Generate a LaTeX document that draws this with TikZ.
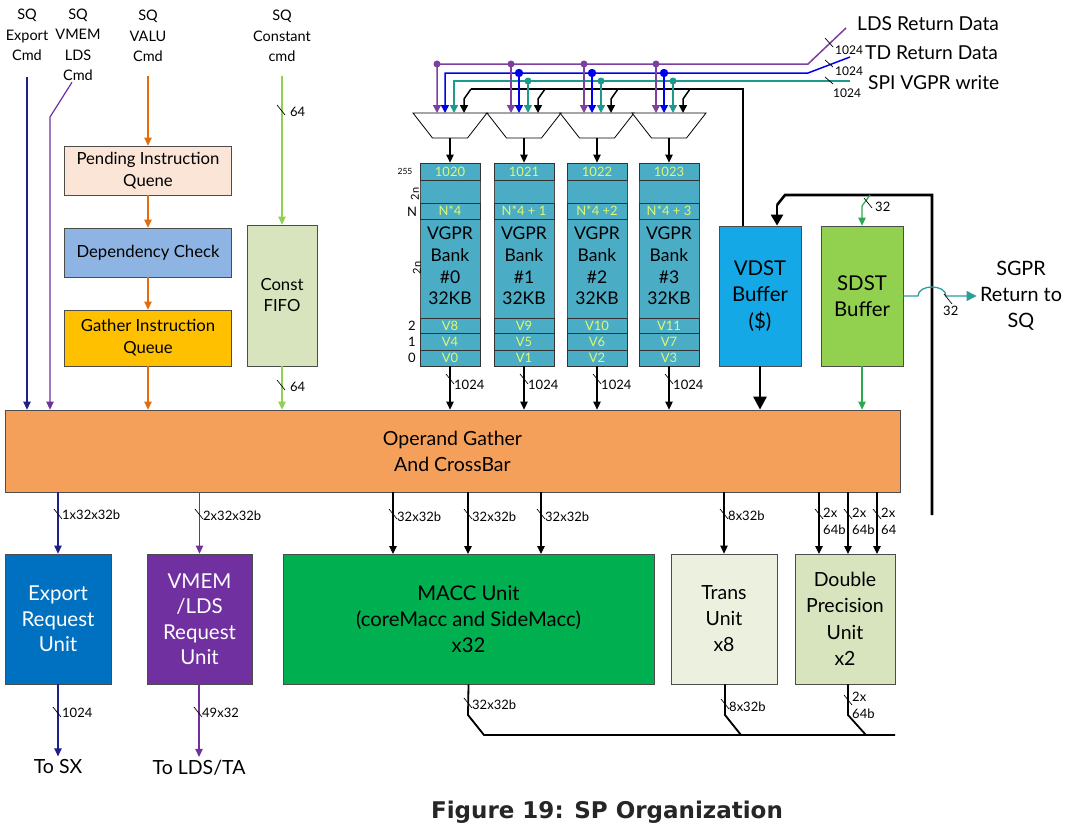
\documentclass[tikz,border=0pt]{standalone}
\usepackage{fontspec}
\setmainfont{Lato}
\newfontfamily\capfont{DejaVu Sans}
\usepackage{xcolor}
\usetikzlibrary{arrows.meta, positioning, calc}

\definecolor{navyln}{HTML}{1F1F8C}
\definecolor{vmemln}{HTML}{7030A0}
\definecolor{valuln}{HTML}{E46C0A}
\definecolor{constln}{HTML}{92D050}
\definecolor{sdstln}{HTML}{2AAA50}
\definecolor{pendfill}{HTML}{FBE5D6}
\definecolor{depfill}{HTML}{8EB4E3}
\definecolor{gathfill}{HTML}{FFC000}
\definecolor{fifofill}{HTML}{D7E4BD}
\definecolor{ogfill}{HTML}{F5A05A}
\definecolor{bankfill}{HTML}{4BACC6}
\definecolor{banktxt}{HTML}{E2F76E}
\definecolor{vdstfill}{HTML}{14A8E6}
\definecolor{sdstfill}{HTML}{92D050}
\definecolor{expfill}{HTML}{0070C0}
\definecolor{vmemfill}{HTML}{7030A0}
\definecolor{maccfill}{HTML}{00B050}
\definecolor{transfill}{HTML}{EBF1DE}
\definecolor{dpfill}{HTML}{D7E4BD}
\definecolor{muxpurp}{HTML}{7F3F9F}
\definecolor{muxblue}{HTML}{0000F0}
\definecolor{muxteal}{HTML}{1C9A8C}
\definecolor{sgprln}{HTML}{2A9D9D}

% bus width mark: slash at (#1,#2), label at (#3,#4)
\newcommand{\wmark}[5]{%
  \draw[wire] (#1-4,#2-5) -- (#1+4,#2+5);
  \node[buslbl] (w#1x#2) at (#3,#4) {#5};}

\begin{document}
\begin{tikzpicture}[x=1pt, y=-1pt,
  box/.style={draw=black!70, line width=0.8pt, align=center, inner sep=1pt},
  toplbl/.style={align=center, inner sep=1pt, font=\fontsize{14.5}{20.5}\selectfont},
  rtlbl/.style={anchor=west, inner sep=0pt, font=\fontsize{19.2}{20}\selectfont},
  buslbl/.style={inner sep=0pt, align=left, anchor=west, font=\fontsize{13}{17}\selectfont},
  wire/.style={line width=0.7pt},
  arr/.style={line width=1.2pt, -{Triangle[width=7.5pt,length=8pt]}},
  fatarr/.style={line width=2.8pt, -{Triangle[width=13pt,length=13pt]}},
  muxin/.style={line width=1.5pt, -{Triangle[width=8pt,length=8pt]}},
  rowbox/.style={draw=black!80, line width=0.8pt, fill=bankfill, minimum width=60pt, inner sep=0pt, text=banktxt, font=\fontsize{13}{13}\selectfont},
  unit/.style={box, minimum height=130pt, font=\fontsize{20.5}{25.5}\selectfont},
]
\useasboundingbox (0,0) rectangle (1067,830);
\fill[white] (0,0) rectangle (1067,830);

% SQ command inputs
\node[toplbl] (sqexp) at (27,35) {SQ\\Export\\Cmd};
\node[toplbl] (sqvmem) at (78,45) {SQ\\VMEM\\LDS\\Cmd};
\node[toplbl] (sqvalu) at (148,36) {SQ\\VALU\\Cmd};
\node[toplbl] (sqconst) at (282,36) {SQ\\Constant\\cmd};

% issue path
\node[box, fill=pendfill, minimum width=167pt, minimum height=49pt, font=\fontsize{16.7}{22}\selectfont] (piq) at (148,170.5) {Pending Instruction\\Quene};
\node[box, fill=depfill, minimum width=167pt, minimum height=49pt, font=\fontsize{16.7}{22}\selectfont] (dep) at (148,252.5) {Dependency Check};
\node[box, fill=gathfill, minimum width=167pt, minimum height=56pt, font=\fontsize{16.7}{22}\selectfont] (giq) at (148,338) {Gather Instruction\\Queue};
\node[box, fill=fifofill, minimum width=70pt, minimum height=141pt, font=\fontsize{16.7}{21}\selectfont] (cfifo) at (282,295.5) {Const\\FIFO};

% operand gather
\node[box, fill=ogfill, minimum width=895pt, minimum height=82pt, font=\fontsize{19.5}{26}\selectfont] (og) at (452.5,451) {Operand Gather\\And CrossBar};

\draw[navyln, arr, shorten <=15pt] (sqexp.south) -- (og.north -| sqexp.south);
\coordinate (vbend) at (50,117);
\draw[vmemln, arr] ($(sqvmem.south)+(-6,0)$) -- (vbend) -- (og.north -| vbend);
\draw[valuln, arr, shorten <=13pt] (sqvalu.south) -- (piq.north);
\draw[valuln, arr] (piq) -- (dep);
\draw[valuln, arr] (dep) -- (giq);
\draw[valuln, arr] (giq.south) -- (og.north -| giq.south);
\draw[constln, arr, shorten <=13pt] (sqconst.south) -- (cfifo.north);
\draw[constln, arr] (cfifo.south) -- (og.north -| cfifo.south);
\wmark{281}{110}{290}{112}{64}
\wmark{281}{385}{290}{387}{64}

% VGPR banks
\foreach \i/\x/\nl in {0/450/{N*4}, 1/524/{N*4 + 1}, 2/597/{N*4 +2}, 3/669/{N*4 + 3}} {
  \pgfmathtruncatemacro{\rtopv}{1020+\i}
  \pgfmathtruncatemacro{\vone}{4+\i}
  \pgfmathtruncatemacro{\vtwo}{8+\i}
  \node[box, fill=bankfill, minimum width=60pt, minimum height=203pt] (bank\i) at (\x,264.5) {};
  \node[rowbox, minimum height=17pt] (rtop\i) at (\x,171.5) {\rtopv};
  \node[rowbox, minimum height=16pt] (rn\i) at (\x,211) {\nl};
  \node[rowbox, minimum height=15pt] (rvb\i) at (\x,325.5) {V\vtwo};
  \node[rowbox, minimum height=17pt] (rva\i) at (\x,341.5) {V\vone};
  \node[rowbox, minimum height=16pt] (rvz\i) at (\x,358) {V\i};
  \node[align=center, font=\fontsize{17.5}{21.7}\selectfont] (btxt\i) at (\x,266) {VGPR\\Bank\\\#\i\\32KB};
  \draw[arr] (bank\i.south) -- (og.north -| bank\i.south);
  \wmark{\x}{379}{\x+4}{385}{1024}
}
\node[inner sep=0pt, font=\fontsize{8.5}{8}\selectfont] (l255) at (405,171) {255};
\node[inner sep=0pt, rotate=90, font=\fontsize{11}{10}\selectfont] (l2na) at (415,194) {2n};
\node[inner sep=0pt, font=\fontsize{13}{12}\selectfont] (lnn) at (412,212) {N};
\node[inner sep=0pt, rotate=90, font=\fontsize{11}{10}\selectfont] (l2nb) at (417,268) {2n};
\node[inner sep=0pt, font=\fontsize{13}{12}\selectfont] (ltwo) at (412,326) {2};
\node[inner sep=0pt, font=\fontsize{13}{12}\selectfont] (lone) at (412,342) {1};
\node[inner sep=0pt, font=\fontsize{13}{12}\selectfont] (lzero) at (412,358) {0};

% write muxes
\foreach \i/\x in {0/450,1/524,2/597,3/669} {
  \draw[line width=0.8pt, fill=white] (\x-37,113) -- (\x+37,113) -- (\x+17.5,138) -- (\x-17.5,138) -- cycle;
  \coordinate (mux\i) at (\x,138);
  \draw[arr] (mux\i) -- (rtop\i.north);
}

% VDST / SDST buffers
\node[box, fill=vdstfill, minimum width=82pt, minimum height=140pt, font=\fontsize{20.4}{26.5}\selectfont] (vdst) at (760,296) {VDST\\Buffer\\(\$)};
\node[box, fill=sdstfill, minimum width=82pt, minimum height=140pt, font=\fontsize{20.4}{26.5}\selectfont] (sdst) at (862,296) {SDST\\Buffer};
\draw[fatarr] (vdst.south) -- (og.north -| vdst.south);
\draw[sdstln, arr] (sdst.south) -- (og.north -| sdst.south);

% return data into muxes
\node[rtlbl] (ldsret) at (857,24) {LDS Return Data};
\node[rtlbl] (tdret) at (865,53) {TD Return Data};
\node[rtlbl] (spiwr) at (868,83) {SPI VGPR write};
\coordinate (ldsend) at (846,28);
\coordinate (tdend) at (850,57);
\coordinate (spiend) at (850,81);
\draw[muxpurp, muxin] (ldsend) -- (808,64) -- (437,64) -- (437,113);
\draw[muxblue, muxin] (tdend) -- (808,73) -- (445,73) -- (445,113);
\draw[muxteal, muxin] (spiend) -- (454,81) -- (454,113);
\draw[line width=2.4pt] ($(vdst.north)+(-17,0)$) -- (743,89) -- (471,89);
\draw[muxin] (471,89) -- (464,99) -- (464,113);
\foreach \x in {524,597,669} {
  \draw[muxpurp, muxin] (\x-13,64) -- (\x-13,113);
  \draw[muxblue, muxin] (\x-5,73) -- (\x-5,113);
  \draw[muxteal, muxin] (\x+4,81) -- (\x+4,113);
  \draw[muxin] (\x+21,89) -- (\x+14,99) -- (\x+14,113);
  \fill[muxblue] (\x-5,73) circle (4.2pt);
  \fill[muxteal] (\x+4,81) circle (3.5pt);
}
\foreach \x in {450,524,597,669} \fill[muxpurp] (\x-13,64) circle (3.5pt);
\draw[wire] (825,38) -- (833,47);
\node[buslbl, font=\fontsize{12}{12}\selectfont] (wlds) at (835,50) {1024};
\draw[wire] (825,60) -- (833,67);
\node[buslbl, font=\fontsize{12}{12}\selectfont] (wtd) at (835,71) {1024};
\draw[wire] (825,77) -- (833,84);
\node[buslbl, font=\fontsize{12}{12}\selectfont] (wspi) at (833,93) {1024};

% write-back path
\coordinate (fbfoot) at (932,515);
\coordinate (fbdrop) at (777,205);
\coordinate (sdbr) at (870,195);
\draw[line width=2.6pt] (fbfoot) |- (785,195) -- (fbdrop);
\draw[line width=2.6pt, -{Triangle[width=12pt,length=11pt]}] (fbdrop) -- (vdst.north -| fbdrop);
\draw[sdstln, arr] (sdbr) -- (862,206) -- (sdst.north);
\wmark{868}{203}{875}{207}{32}

% SGPR return
\node[align=center, font=\fontsize{19.8}{26}\selectfont] (sgpr) at (1021,296) {SGPR\\Return to\\SQ};
\draw[sgprln, line width=1.3pt, -{Triangle[width=10pt,length=10pt]}] (sdst.east) -- (918,296) .. controls (918,284) and (946,284) .. (946,296) -- (sgpr.west);
\wmark{948}{299}{943}{311}{32}

% execution units
\node[unit, fill=expfill, text=white, minimum width=106pt] (exu) at (58,619) {Export\\Request\\Unit};
\node[unit, fill=vmemfill, text=white, minimum width=105pt] (vmu) at (199.5,619) {VMEM\\/LDS\\Request\\Unit};
\node[unit, fill=maccfill, minimum width=371pt, font=\fontsize{20.3}{26}\selectfont] (macc) at (468.5,619) {MACC Unit\\(coreMacc and SideMacc)\\x32};
\node[unit, fill=transfill, minimum width=106pt, font=\fontsize{19.5}{26}\selectfont] (trans) at (724,619) {Trans\\Unit\\x8};
\node[unit, fill=dpfill, minimum width=100pt, font=\fontsize{19.5}{26.5}\selectfont] (dpu) at (845,619) {Double\\Precision\\Unit\\x2};

\draw[navyln, arr] (og.south -| exu) -- (exu.north);
\wmark{58}{514}{62}{515}{1x32x32b}
\draw[vmemln, arr] (og.south -| vmu) -- (vmu.north);
\wmark{199}{514}{203}{516}{2x32x32b}
\foreach \x [count=\k] in {393,468,541} {
  \coordinate (mi\k) at (\x,554);
  \draw[arr] (og.south -| mi\k) -- (mi\k);
  \wmark{\x}{514}{\x+4}{517}{32x32b}
}
\draw[arr] (og.south -| trans) -- (trans.north);
\wmark{724}{514}{728}{516}{8x32b}
\foreach \x/\lb in {819/{2x\\64b}, 848/{2x\\64b}, 877/{2x\\64}} {
  \coordinate (di\x) at (\x,554);
  \draw[arr] (og.south -| di\x) -- (di\x);
  \wmark{\x}{514}{\x+4}{521}{\lb}
}

% outputs
\node[font=\fontsize{19.5}{22}\selectfont] (tosx) at (58,767) {To SX};
\node[font=\fontsize{19.5}{22}\selectfont] (tolds) at (199,768) {To LDS/TA};
\draw[navyln, arr] (exu.south) -- (tosx.north);
\wmark{57}{712}{62}{713}{1024}
\draw[vmemln, arr] (vmu.south -| tolds) -- (tolds.north);
\wmark{198}{712}{202}{713}{49x32}

% result bus
\coordinate (rbend) at (895,735);
\draw[line width=1.8pt] (macc.south) -- (468,715) -- (484,735) -- (rbend);
\draw[line width=1.8pt] (trans.south -| 725,0) -- (725,715) -- (741,735);
\draw[line width=1.8pt] (dpu.south -| 848,0) -- (848,715) -- (866,735);
\wmark{468}{703}{472}{705}{32x32b}
\wmark{725}{704}{729}{707}{8x32b}
\wmark{848}{700}{852}{705}{2x\\64b}

% caption
\node[font=\capfont\bfseries\fontsize{23}{26}\selectfont, text=black!85] (cap) at (607,812) {Figure 19: SP Organization};
\end{tikzpicture}
\end{document}
